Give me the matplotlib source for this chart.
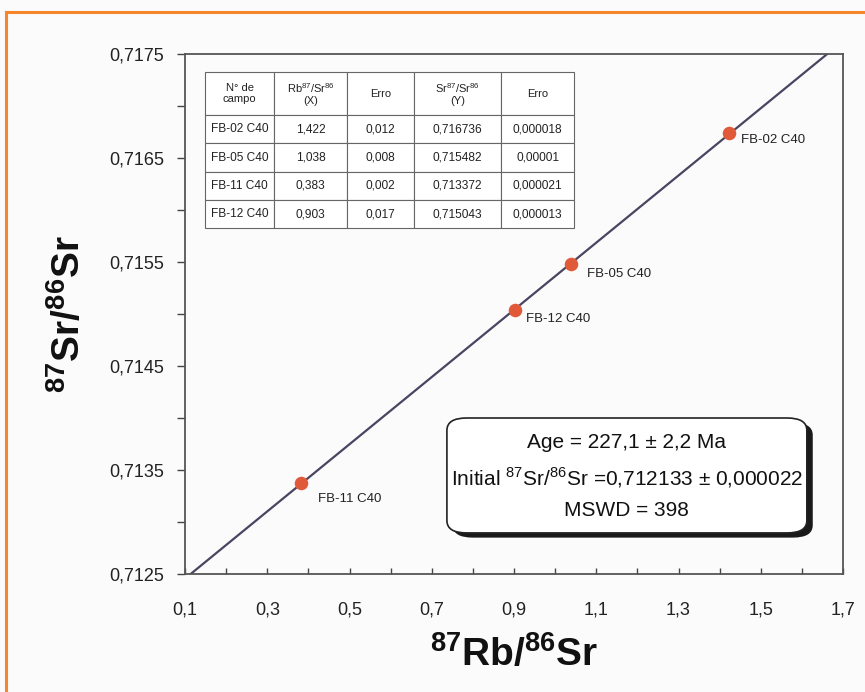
import matplotlib
matplotlib.use('Agg')
from matplotlib import pyplot as plt
from matplotlib import font_manager
from matplotlib.patches import FancyBboxPatch
from matplotlib.lines import Line2D
import numpy as np

# sample data (Rb-Sr isochron)
samples = ['FB-02 C40', 'FB-05 C40', 'FB-11 C40', 'FB-12 C40']
rb_sr = [1.422, 1.038, 0.383, 0.903]
rb_err = ['0,012', '0,008', '0,002', '0,017']
sr_sr = [0.716736, 0.715482, 0.713372, 0.715043]
sr_err = ['0,000018', '0,00001', '0,000021', '0,000013']
label_offsets = [(9, -5), (12, -7), (12, -11), (8, -7)]  # points

# isochron fit
age_ma = 227.1
initial_ratio = 0.712133
decay_const = 1.42e-11
slope = np.exp(decay_const * age_ma * 1e6) - 1

x_ticks = [0.1, 0.3, 0.5, 0.7, 0.9, 1.1, 1.3, 1.5, 1.7]
x_tick_labels = ['0,1', '0,3', '0,5', '0,7', '0,9', '1,1', '1,3', '1,5', '1,7']
y_ticks = [0.7125, 0.7135, 0.7145, 0.7155, 0.7165, 0.7175]
y_tick_labels = ['0,7125', '0,7135', '0,7145', '0,7155', '0,7165', '0,7175']

names = {f.name for f in font_manager.fontManager.ttflist}
narrow = 'Liberation Sans Narrow' if 'Liberation Sans Narrow' in names else 'Liberation Sans'

plt.rcParams['font.family'] = ['Liberation Sans', 'DejaVu Sans']
plt.rcParams['mathtext.fontset'] = 'custom'
plt.rcParams['mathtext.rm'] = 'Liberation Sans'
plt.rcParams['mathtext.bf'] = narrow + ':bold'

bg = '#fbfbfb'
fig = plt.figure(figsize=(8.65, 6.92), dpi=100, facecolor=bg)
ax = fig.add_axes([0.2139, 0.1705, 0.7607, 0.7515], facecolor=bg)

# regression line
xl = np.array([0.1, 1.7])
ax.plot(xl, initial_ratio + slope * xl, color='#4b4461', lw=1.6, zorder=2)

ax.scatter(rb_sr, sr_sr, s=95, color='#e05a3a', zorder=3, linewidths=0)
for name, x, y, off in zip(samples, rb_sr, sr_sr, label_offsets):
    ax.annotate(name, (x, y), xytext=off, textcoords='offset points',
                fontsize=9.5, va='center', ha='left', color='#222222')

ax.set_xlim(0.1, 1.7)
ax.set_ylim(0.7125, 0.7175)
ax.set_xticks(x_ticks)
ax.set_xticklabels(x_tick_labels, family=narrow, fontsize=13)
ax.set_xticks(np.arange(0.2, 1.7, 0.2), minor=True)
ax.set_yticks(y_ticks)
ax.set_yticklabels(y_tick_labels, family=narrow, fontsize=13)
ax.set_yticks(np.arange(0.7130, 0.7175, 0.001), minor=True)
ax.tick_params(axis='x', which='both', direction='in', length=4, width=1,
               pad=20, colors='#444444', labelcolor='#222222')
ax.tick_params(axis='y', which='both', direction='out', length=6, width=1,
               pad=9, colors='#444444', labelcolor='#222222')
for s in ax.spines.values():
    s.set_color('#555555')
    s.set_linewidth(1.3)

ax.set_xlabel(r'$\mathbf{^{87}Rb/^{86}Sr}$', fontsize=28, labelpad=12, color='#111111')
ax.set_ylabel(r'$\mathbf{^{87}Sr/^{86}Sr}$', fontsize=28, labelpad=15, color='#111111')

# data table
header = ['N° de\ncampo', 'Rb$^{87}$/Sr$^{86}$\n(X)', 'Erro', 'Sr$^{87}$/Sr$^{86}$\n(Y)', 'Erro']
rows = [[n, f'{x:.3f}'.replace('.', ','), e, f'{y:.6f}'.replace('.', ','), ey]
        for n, x, e, y, ey in zip(samples, rb_sr, rb_err, sr_sr, sr_err)]
col_w = [69, 73, 67, 87, 73]
tbl = ax.table(cellText=rows, colLabels=header, colWidths=[w / 369 for w in col_w],
               cellLoc='center', bbox=[0.0304, 0.665, 0.561, 0.3])
tbl.auto_set_font_size(False)
for (r, c), cell in tbl.get_celld().items():
    cell.set_height(43 if r == 0 else 28.25)
    cell.set_edgecolor('#666666')
    cell.set_linewidth(0.8)
    cell.set_facecolor('white')
    cell.get_text().set_fontsize(8 if r == 0 else 8.6)
    cell.get_text().set_color('#222222')

# result box with shadow
bx, by, bw, bh = 0.398, 0.079, 0.547, 0.221
shadow = FancyBboxPatch((bx + 0.009, by - 0.009), bw, bh, transform=ax.transAxes,
                        boxstyle='round,pad=0,rounding_size=0.03', facecolor='#1a1a1a',
                        edgecolor='none', zorder=4, mutation_aspect=0.79)
box = FancyBboxPatch((bx, by), bw, bh, transform=ax.transAxes,
                     boxstyle='round,pad=0,rounding_size=0.03', facecolor='white',
                     edgecolor='#222222', lw=1.2, zorder=5, mutation_aspect=0.79)
ax.add_patch(shadow)
ax.add_patch(box)
cx = bx + bw / 2
ax.text(cx, 0.252, 'Age = 227,1 ± 2,2 Ma', transform=ax.transAxes, ha='center',
        va='center', fontsize=15, zorder=6, color='#111111')
ax.text(cx, 0.185, 'Initial $^{87}$Sr/$^{86}$Sr =0,712133 ± 0,000022', transform=ax.transAxes,
        ha='center', va='center', fontsize=15, zorder=6, color='#111111')
ax.text(cx, 0.123, 'MSWD = 398', transform=ax.transAxes, ha='center',
        va='center', fontsize=15, zorder=6, color='#111111')

# orange frame
orange = '#f5862a'
fig.add_artist(Line2D([0.007, 0.007], [0.0, 0.983], color=orange, lw=2.2))
fig.add_artist(Line2D([0.007, 1.0], [0.983, 0.983], color=orange, lw=2.2))

plt.savefig('out.png', dpi=100, facecolor=bg)
